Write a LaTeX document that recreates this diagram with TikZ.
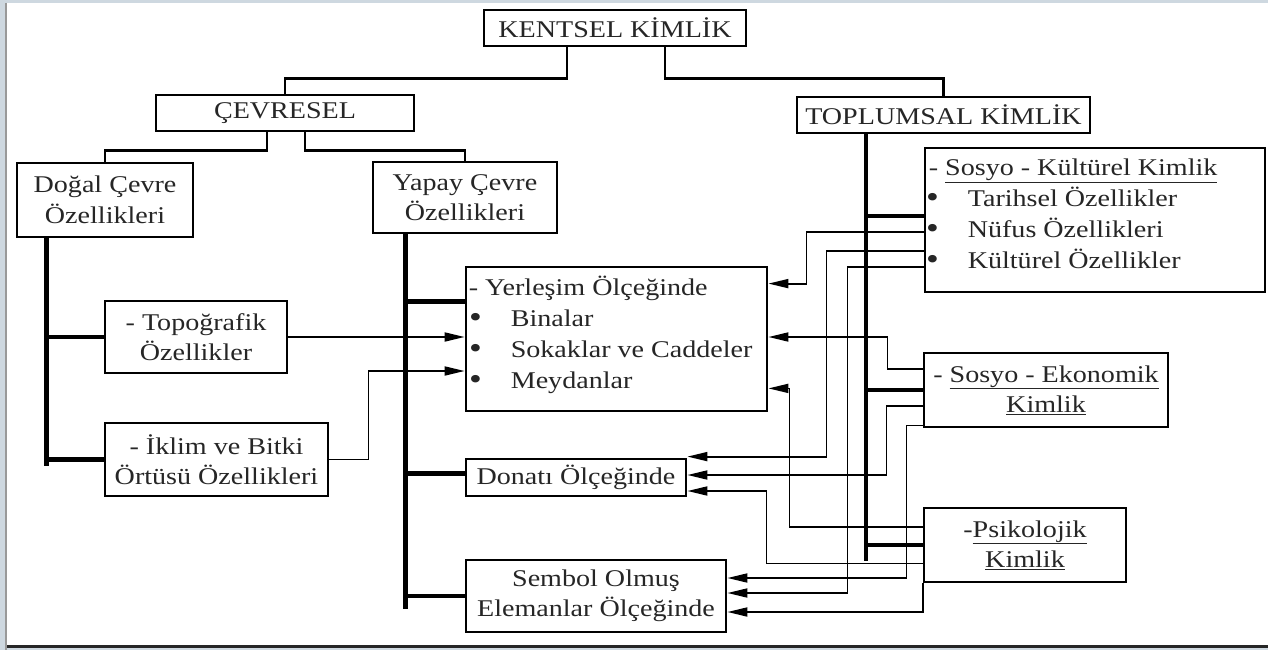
\documentclass[tikz,border=0pt]{standalone}
\usepackage{fontspec}
\setmainfont{Liberation Serif}[FakeStretch=1.17]
\usetikzlibrary{arrows.meta,calc}
\newcommand\dfs{\fontsize{24}{30.5}\selectfont}
\definecolor{bgc}{RGB}{206,216,224}
\begin{document}
\begin{tikzpicture}[x=1pt,y=-1pt,
  box/.style={draw, line width=2.8pt, inner sep=0pt, align=center, font=\dfs, text=black!85},
  txt/.style={inner sep=0pt, anchor=base west, font=\dfs, text=black!85},
  bul/.style={inner sep=0pt, anchor=center, font=\dfs, text=black!85, scale=1.3},
  conn/.style={line width=2.4pt},
  bus/.style={line width=4.5pt},
  arr/.style={line width=1.8pt, -{Triangle[length=20pt,width=9pt]}}]
\useasboundingbox (0,0) rectangle (1268,650);
\fill[bgc] (0,0) rectangle (1268,650);
\fill[white] (7,3) rectangle (1268,645);
\draw[line width=1.5pt, gray!80] (6,3) -- (6,650);
\draw[line width=2.5pt, black!85] (7,646.5) -- (1268,646.5);

% boxes
\node[box, minimum width=262pt, minimum height=36pt] (kent) at (615,28) {KENTSEL KİMLİK};
\node[box, minimum width=258pt, minimum height=36pt] (cevre) at (285,113) {ÇEVRESEL};
\node[box, minimum width=293pt, minimum height=36pt] (toplum) at (943.5,115) {TOPLUMSAL KİMLİK};
\node[box, minimum width=176pt, minimum height=74pt] (dogal) at (105,200) {Doğal Çevre\\Özellikleri};
\node[box, minimum width=184pt, minimum height=71pt] (yapay) at (465,197.5) {Yapay Çevre\\Özellikleri};
\node[box, minimum width=182pt, minimum height=72pt] (topo) at (196,337) {- Topoğrafik\\Özellikler};
\node[box, minimum width=223pt, minimum height=73pt] (iklim) at (216.5,459.5) {- İklim ve Bitki\\Örtüsü Özellikleri};
\node[box, minimum width=301pt, minimum height=144pt] (yer) at (616.5,339) {};
\node[box, minimum width=220pt, minimum height=37pt] (donati) at (576,477.5) {Donatı Ölçeğinde};
\node[box, minimum width=260pt, minimum height=72pt] (sembol) at (596,596) {Sembol Olmuş\\Elemanlar Ölçeğinde};
\node[box, minimum width=340pt, minimum height=144pt] (sk) at (1095,220) {};
\node[box, minimum width=244pt, minimum height=74pt] (se) at (1046,390) {- \underline{Sosyo - Ekonomik}\\\underline{Kimlik}};
\node[box, minimum width=202pt, minimum height=74pt] (psi) at (1025,545) {-\underline{Psikolojik}\\\underline{Kimlik}};

% texts in Yerlesim box
\node[txt] (y0) at ($(yer.north west)+(4,30)$) {- Yerleşim Ölçeğinde};
\node[bul] (y1b) at ($(yer.north west)+(11,55)$) {•};
\node[txt] (y1) at ($(yer.north west)+(46,61)$) {Binalar};
\node[bul] (y2b) at ($(yer.north west)+(11,86)$) {•};
\node[txt] (y2) at ($(yer.north west)+(46,92)$) {Sokaklar ve Caddeler};
\node[bul] (y3b) at ($(yer.north west)+(11,117)$) {•};
\node[txt] (y3) at ($(yer.north west)+(46,123)$) {Meydanlar};

% texts in Sosyo-Kulturel box
\node[txt] (s0) at ($(sk.north west)+(5,29)$) {- \underline{Sosyo - Kültürel Kimlik}};
\node[bul] (s1b) at ($(sk.north west)+(9,54)$) {•};
\node[txt] (s1) at ($(sk.north west)+(44,60)$) {Tarihsel Özellikler};
\node[bul] (s2b) at ($(sk.north west)+(9,85)$) {•};
\node[txt] (s2) at ($(sk.north west)+(44,91)$) {Nüfus Özellikleri};
\node[bul] (s3b) at ($(sk.north west)+(9,116)$) {•};
\node[txt] (s3) at ($(sk.north west)+(44,122)$) {Kültürel Özellikler};

% tree connectors
\draw[conn] ($(kent.south)+(-48,0)$) -- ++(0,31) -| (cevre.north);
\draw[conn] ($(kent.south)+(50,0)$) -- ++(0,31) -| (toplum.north);
\draw[conn] ($(cevre.south)+(-18,0)$) -- ++(0,18) -| (dogal.north);
\draw[conn] ($(cevre.south)+(20,0)$) -- ++(0,18) -| (yapay.north);

% buses
\coordinate (db) at ($(dogal.south west)+(31,0)$);
\draw[bus] (db) -- ++(0,228);
\draw[bus] (topo.west) -- (topo.west -| db);
\draw[bus] (iklim.west) -- (iklim.west -| db);

\coordinate (yb) at ($(yapay.south west)+(34,0)$);
\draw[bus] (yb) -- ++(0,375);
\coordinate (yerb) at ($(yer.north west)+(0,36)$);
\draw[bus] (yerb) -- (yerb -| yb);
\coordinate (donb) at ($(donati.west)+(0,-4)$);
\draw[bus] (donb) -- (donb -| yb);
\draw[bus] (sembol.west) -- (sembol.west -| yb);

\coordinate (tb) at ($(toplum.south)+(-77.5,0)$);
\draw[bus] (tb) -- ++(0,427);
\coordinate (skb) at ($(sk.west)+(0,-4)$);
\draw[bus] (skb) -- (skb -| tb);
\draw[bus] (se.west) -- (se.west -| tb);
\draw[bus] (psi.west) -- (psi.west -| tb);

% arrows
\draw[arr] (topo.east) -- (topo.east -| yer.west);
\draw[arr] (iklim.east) -- ++(39,0) |- ($(yer.west)+(0,32)$);

\draw[arr] ($(sk.north west)+(0,85)$) -| ($(yer.north east)+(38,18)$) -- ($(yer.north east)+(0,18)$);
\draw[arr] ($(sk.north west)+(0,104)$) -| ($(donati.north east)+(139,-1)$) -- ($(donati.north east)+(0,-1)$);
\draw[arr] ($(sk.north west)+(0,120)$) -| ($(sembol.east)+(120,-3)$) -- ($(sembol.east)+(0,-3)$);

\draw[arr] ($(se.north west)+(0,17)$) -| ($(yer.east)+(119,-2)$) -- ($(yer.east)+(0,-2)$);
\draw[arr] ($(se.north west)+(0,54)$) -| ($(donati.east)+(199,-2.5)$) -- ($(donati.east)+(0,-2.5)$);
\draw[arr] ($(se.south west)+(0,-3)$) -| ($(sembol.east)+(179,-18)$) -- ($(sembol.east)+(0,-18)$);

\draw[arr] ($(psi.north west)+(0,20)$) -| ($(yer.south east)+(21,-24)$) -- ($(yer.south east)+(0,-24)$);
\draw[arr] ($(psi.south west)+(0,-20)$) -| ($(donati.east)+(79,13.5)$) -- ($(donati.east)+(0,13.5)$);
\draw[arr] (psi.south west) |- ($(sembol.east)+(0,16)$);
\end{tikzpicture}
\end{document}
